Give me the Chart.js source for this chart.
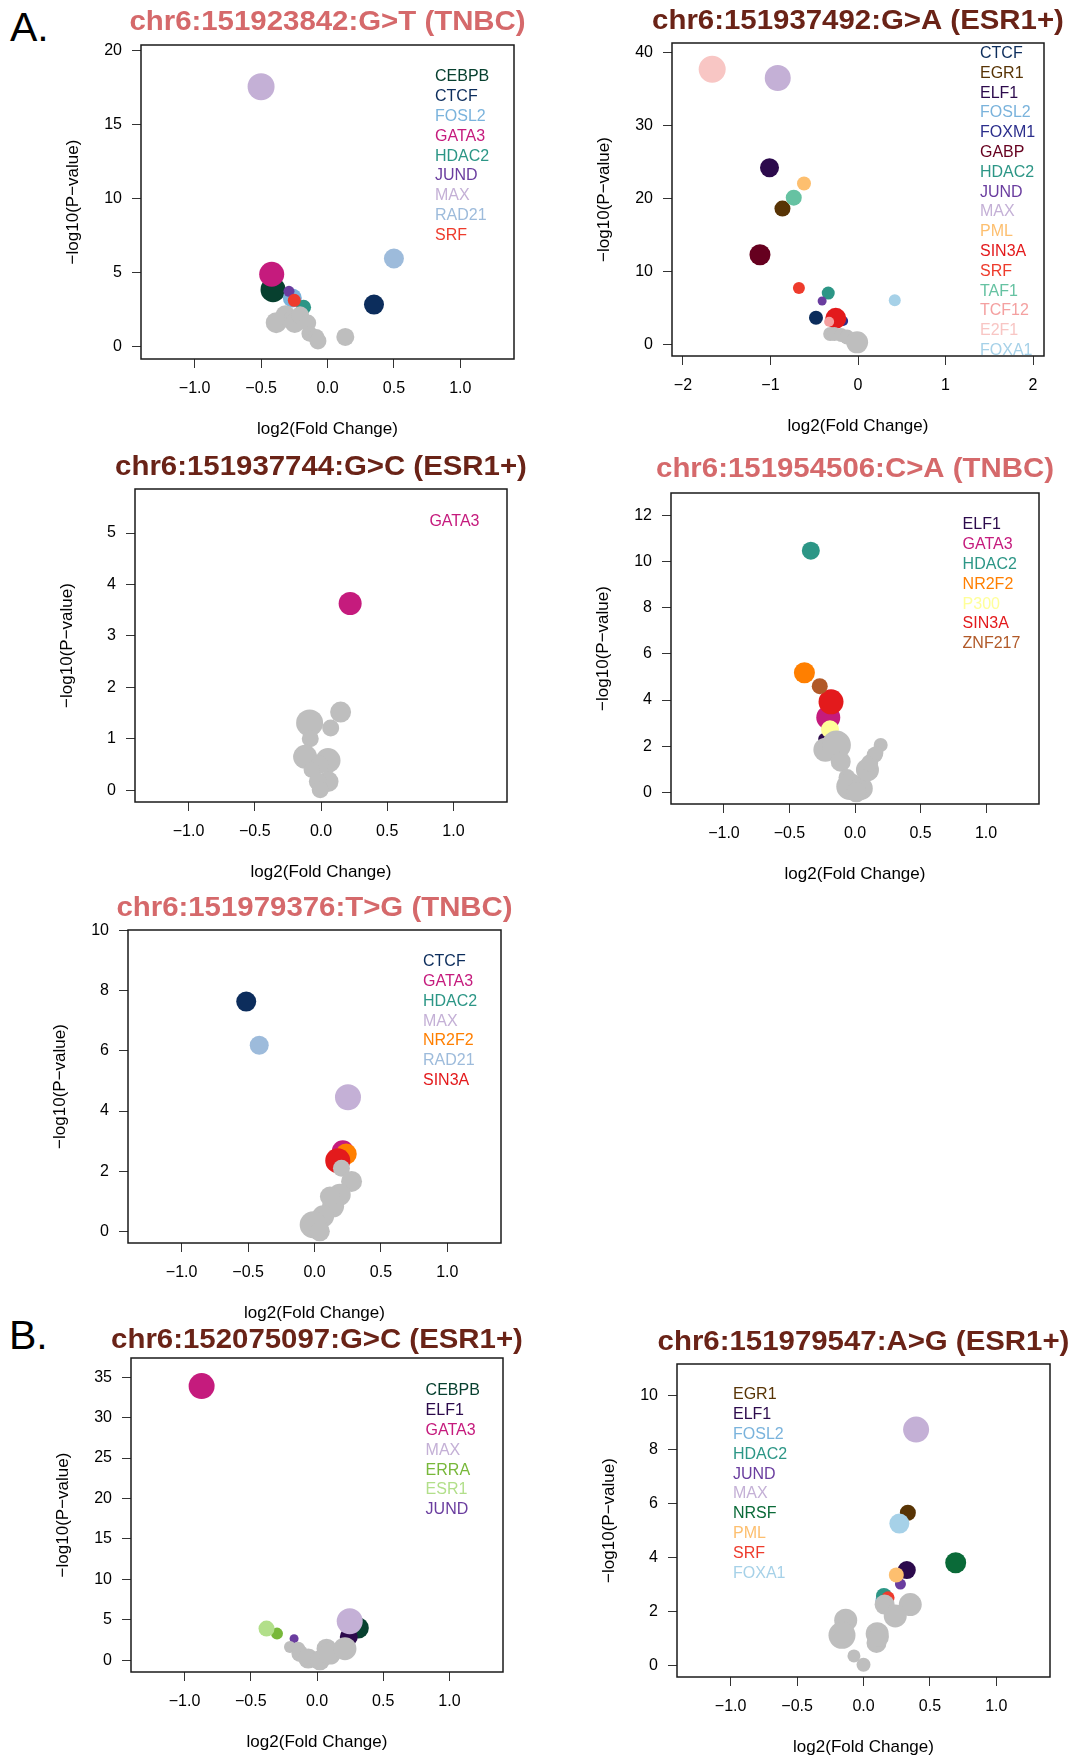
<!DOCTYPE html>
<html>
<head>
<meta charset="utf-8">
<script src="https://cdn.jsdelivr.net/npm/chart.js@4.4.1/dist/chart.umd.min.js"></script>
<style>
  body { margin: 0; background: #fff; }
  #page { position: relative; width: 1072px; height: 1756px; font-family: "Liberation Sans", Arial, sans-serif; }
  #page canvas { position: absolute; }
  .tag { position: absolute; font-size: 41px; line-height: 41px; color: #000; }
</style>
</head>
<body>
<div id="page">
  <div class="tag" style="left:10px;top:7px">A.</div>
  <div class="tag" style="left:9px;top:1315px">B.</div>
</div>
<script>
// --- Data ---
// each panel: TFs in legend / drawing order, their log2FC (x), -log10 p (y), bubble radius,
// then the grey (non-significant) points

const p1Title = "chr6:151923842:G>T (TNBC)";
const p1Legend = ["CEBPB", "CTCF", "FOSL2", "GATA3", "HDAC2", "JUND", "MAX", "RAD21", "SRF"];
const p1Tf = ["CEBPB", "CTCF", "FOSL2", "GATA3", "HDAC2", "JUND", "MAX", "RAD21", "SRF"];
const p1X = [-0.41, 0.35, -0.265, -0.42, -0.18, -0.29, -0.50, 0.50, -0.25];
const p1Y = [3.87, 2.86, 3.31, 4.91, 2.68, 3.76, 17.57, 5.97, 3.15];
const p1R = [12.5, 10, 9.5, 12.5, 7.5, 5.5, 13.5, 10, 6.5];
const p1GreyX = [-0.386, -0.317, -0.265, -0.247, -0.206, -0.149, -0.136, -0.085, -0.072, 0.134];
const p1GreyY = [1.64, 2.14, 1.91, 1.62, 2.14, 1.62, 0.90, 0.68, 0.41, 0.68];
const p1GreyR = [10.5, 10, 8.5, 10, 9, 8.5, 8, 8, 8.5, 9];

const p2Title = "chr6:151937492:G>A (ESR1+)";
const p2Legend = ["CTCF", "EGR1", "ELF1", "FOSL2", "FOXM1", "GABP", "HDAC2", "JUND", "MAX", "PML",
                  "SIN3A", "SRF", "TAF1", "TCF12", "E2F1", "FOXA1"];
const p2Tf = ["CTCF", "EGR1", "ELF1", "FOXM1", "GABP", "HDAC2", "JUND", "MAX", "PML", "SIN3A",
              "SRF", "TAF1", "TCF12", "E2F1", "FOXA1"];
const p2X = [-0.48, -0.863, -1.011, -0.17, -1.12, -0.34, -0.41, -0.917, -0.617, -0.254,
             -0.675, -0.734, -0.33, -1.666, 0.42];
const p2Y = [3.65, 18.6, 24.2, 3.2, 12.28, 7.03, 5.94, 36.5, 22.05, 3.56,
             7.72, 20.1, 3.1, 37.7, 6.03];
const p2R = [7, 8, 9.5, 5, 10.5, 6.5, 4.5, 13, 7, 10.5, 6, 8, 5, 13.5, 6];
const p2GreyX = [-0.318, -0.27, -0.192, -0.125, -0.01];
const p2GreyY = [1.42, 1.4, 1.28, 1.0, 0.27];
const p2GreyR = [7, 7, 7, 7.5, 11];

const p3Title = "chr6:151937744:G>C (ESR1+)";
const p3Legend = ["GATA3"];
const p3Tf = ["GATA3"];
const p3X = [0.22];
const p3Y = [3.63];
const p3R = [11.5];
const p3GreyX = [-0.086, 0.148, 0.073, -0.081, -0.12, 0.053, -0.012, -0.071, 0.053, -0.024, -0.006];
const p3GreyY = [1.31, 1.52, 1.21, 1.0, 0.65, 0.58, 0.5, 0.4, 0.17, 0.17, 0.01];
const p3GreyR = [13.5, 10.5, 8.5, 8.5, 12, 12.5, 9, 8, 10.5, 9, 8.5];

const p4Title = "chr6:151954506:C>A (TNBC)";
const p4Legend = ["ELF1", "GATA3", "HDAC2", "NR2F2", "P300", "SIN3A", "ZNF217"];
const p4Tf = ["ELF1", "GATA3", "HDAC2", "NR2F2", "P300", "SIN3A", "ZNF217"];
const p4X = [-0.235, -0.204, -0.337, -0.386, -0.191, -0.183, -0.269];
const p4Y = [2.31, 3.24, 10.47, 5.18, 2.73, 3.92, 4.6];
const p4R = [6, 12, 9, 10.5, 9, 12.5, 8];
const p4GreyX = [-0.226, -0.142, -0.109, -0.061, -0.04, 0.048, 0.01, 0.095, 0.15, 0.196, 0.112, 0.163];
const p4GreyY = [1.84, 2.05, 1.33, 0.64, 0.25, 0.17, 0.0, 0.97, 1.62, 2.05, 1.27, 1.7];
const p4GreyR = [12, 14.5, 10, 8.5, 13.5, 11.5, 10, 11.5, 8, 7, 8.5, 7];

const p5Title = "chr6:151979376:T>G (TNBC)";
const p5Legend = ["CTCF", "GATA3", "HDAC2", "MAX", "NR2F2", "RAD21", "SIN3A"];
const p5Tf = ["CTCF", "GATA3", "MAX", "NR2F2", "RAD21", "SIN3A"];
const p5X = [-0.514, 0.213, 0.252, 0.239, -0.416, 0.175];
const p5Y = [7.64, 2.66, 4.46, 2.57, 6.19, 2.35];
const p5R = [10, 11, 13, 10.5, 9.5, 12.5];
const p5GreyX = [0.203, 0.279, 0.19, 0.14, 0.065, -0.01, 0.04, 0.116];
const p5GreyY = [2.1, 1.66, 1.22, 0.83, 0.5, 0.22, 0.0, 1.16];
const p5GreyR = [8.5, 10.5, 11, 11, 11, 13.5, 10, 10];

const p6Title = "chr6:152075097:G>C (ESR1+)";
const p6Legend = ["CEBPB", "ELF1", "GATA3", "MAX", "ERRA", "ESR1", "JUND"];
const p6Tf = ["CEBPB", "ELF1", "GATA3", "MAX", "ERRA", "ESR1", "JUND"];
const p6X = [0.312, 0.24, -0.871, 0.247, -0.302, -0.381, -0.173];
const p6Y = [4.0, 2.89, 33.9, 4.83, 3.3, 3.92, 2.68];
const p6R = [10.5, 9, 13, 13, 6, 8, 4.5];
const p6GreyX = [-0.204, -0.142, -0.129, -0.066, 0.022, 0.072, 0.098, 0.211];
const p6GreyY = [1.65, 1.44, 0.83, 0.21, 0.0, 1.44, 0.83, 1.44];
const p6GreyR = [6, 7, 8.5, 10, 10, 10, 11, 11.5];

const p7Title = "chr6:151979547:A>G (ESR1+)";
const p7Legend = ["EGR1", "ELF1", "FOSL2", "HDAC2", "JUND", "MAX", "NRSF", "PML", "SRF", "FOXA1"];
const p7Tf = ["EGR1", "ELF1", "FOSL2", "HDAC2", "JUND", "MAX", "NRSF", "PML", "SRF", "FOXA1"];
const p7X = [0.334, 0.326, 0.15, 0.154, 0.278, 0.396, 0.694, 0.247, 0.185, 0.27];
const p7Y = [5.65, 3.53, 2.4, 2.57, 3.01, 8.73, 3.8, 3.35, 2.5, 5.25];
const p7R = [8, 9, 8, 8, 5.5, 13, 10.5, 7.5, 6.5, 10];
const p7GreyX = [0.159, 0.352, 0.239, -0.134, -0.162, 0.103, 0.098, -0.072, 0.0, 0.116];
const p7GreyY = [2.25, 2.25, 1.83, 1.67, 1.11, 1.17, 0.83, 0.35, 0.02, 1.05];
const p7GreyR = [10, 11.5, 11.5, 11.5, 13.5, 11.5, 10, 6.5, 7, 10];

const xTicksFc = [-1, -0.5, 0, 0.5, 1];
const xTicksWide = [-2, -1, 0, 1, 2];

// --- Colours ---
const tfColour = {
  CEBPB: "#07402f", CTCF: "#0c2d5c", FOSL2: "#7ab3dc", GATA3: "#c51b7d", HDAC2: "#2c9686",
  JUND: "#6a3d9f", MAX: "#c4b0d6", RAD21: "#9dbbdb", SRF: "#ee3b2c", EGR1: "#583405",
  ELF1: "#2c0a4c", FOXM1: "#2b2e8c", GABP: "#66001f", PML: "#fdbf6f", SIN3A: "#e31a1c",
  TAF1: "#66c2a2", TCF12: "#f4a0a0", E2F1: "#f8c6c4", FOXA1: "#a6d1e8", NR2F2: "#ff7f00",
  P300: "#ffff99", ZNF217: "#b15928", ERRA: "#78b83a", ESR1: "#b2df8a", NRSF: "#0a6a38"
};
const GREY = "#bebebe";
const TNBC = "#d5696b";
const ESR = "#6a2317";
const FONT = '"Liberation Sans", Arial, sans-serif';

// panel layout: plot box [left, top, right, bottom] in page pixels
const panels = [
  { title: p1Title, tc: TNBC, box: [141, 45, 514, 359], xr: [-1.404, 1.404], yr: [-0.81, 20.38],
    xt: xTicksFc, yt: [0, 5, 10, 15, 20], dec: 1, legend: p1Legend,
    tf: p1Tf, x: p1X, y: p1Y, r: p1R, gx: p1GreyX, gy: p1GreyY, gr: p1GreyR,
    leg: { fromRight: 79, top: 32 }, gap: 23 },
  { title: p2Title, tc: ESR, box: [672, 43, 1044, 356], xr: [-2.125, 2.125], yr: [-1.6, 41.3],
    xt: xTicksWide, yt: [0, 10, 20, 30, 40], dec: 0, legend: p2Legend,
    tf: p2Tf, x: p2X, y: p2Y, r: p2R, gx: p2GreyX, gy: p2GreyY, gr: p2GreyR,
    leg: { fromRight: 64, top: 10.5 }, gap: 22 },
  { title: p3Title, tc: ESR, box: [135, 489, 507, 802], xr: [-1.404, 1.404], yr: [-0.227, 5.855],
    xt: xTicksFc, yt: [0, 1, 2, 3, 4, 5], dec: 1, legend: p3Legend,
    tf: p3Tf, x: p3X, y: p3Y, r: p3R, gx: p3GreyX, gy: p3GreyY, gr: p3GreyR,
    leg: { fromRight: 77.6, top: 32.7 }, gap: 22 },
  { title: p4Title, tc: TNBC, box: [671, 493, 1039, 804], xr: [-1.404, 1.404], yr: [-0.506, 12.97],
    xt: xTicksFc, yt: [0, 2, 4, 6, 8, 10, 12], dec: 1, legend: p4Legend,
    tf: p4Tf, x: p4X, y: p4Y, r: p4R, gx: p4GreyX, gy: p4GreyY, gr: p4GreyR,
    leg: { fromRight: 76.4, top: 32 }, gap: 24 },
  { title: p5Title, tc: TNBC, box: [128, 930, 501, 1243], xr: [-1.404, 1.404], yr: [-0.388, 10.02],
    xt: xTicksFc, yt: [0, 2, 4, 6, 8, 10], dec: 1, legend: p5Legend,
    tf: p5Tf, x: p5X, y: p5Y, r: p5R, gx: p5GreyX, gy: p5GreyY, gr: p5GreyR,
    leg: { fromRight: 78, top: 31.7 }, gap: 22 },
  { title: p6Title, tc: ESR, box: [131, 1358, 503, 1672], xr: [-1.404, 1.404], yr: [-1.444, 37.37],
    xt: xTicksFc, yt: [0, 5, 10, 15, 20, 25, 30, 35], dec: 1, legend: p6Legend,
    tf: p6Tf, x: p6X, y: p6Y, r: p6R, gx: p6GreyX, gy: p6GreyY, gr: p6GreyR,
    leg: { fromRight: 77.4, top: 33 }, gap: 18 },
  { title: p7Title, tc: ESR, box: [677, 1364, 1050, 1677], xr: [-1.404, 1.404], yr: [-0.432, 11.16],
    xt: xTicksFc, yt: [0, 2, 4, 6, 8, 10], dec: 1, legend: p7Legend,
    tf: p7Tf, x: p7X, y: p7Y, r: p7R, gx: p7GreyX, gy: p7GreyY, gr: p7GreyR,
    leg: { fromLeft: 56, top: 31 }, gap: 22 }
];

// box, text legend and title, R style
const decor = {
  id: "decor",
  afterDatasetsDraw(chart, args, o) {
    const { ctx, chartArea: a } = chart;
    ctx.save();
    ctx.strokeStyle = "#1a1a1a";
    ctx.lineWidth = 1.5;
    ctx.strokeRect(a.left, a.top, a.right - a.left, a.bottom - a.top);

    ctx.font = "16px " + FONT;
    ctx.textBaseline = "middle";
    ctx.textAlign = "left";
    const lx = o.leg.fromLeft != null ? a.left + o.leg.fromLeft : a.right - o.leg.fromRight;
    o.legend.forEach((name, i) => {
      ctx.fillStyle = tfColour[name];
      ctx.fillText(name, lx, a.top + o.leg.top + i * 19.8);
    });

    ctx.font = "bold 28px " + FONT;
    ctx.fillStyle = o.tc;
    ctx.textAlign = "center";
    ctx.translate((a.left + a.right) / 2, a.top - o.gap);
    ctx.scale(1.05, 1);
    ctx.fillText(o.title, 0, 0);
    ctx.restore();
  }
};

const minus = s => String(s).replace("-", "\u2212");
const page = document.getElementById("page");

panels.forEach(p => {
  const [l, t, r, b] = p.box;
  const canvas = document.createElement("canvas");
  const w = r - l + 140, h = b - t + 140;
  canvas.width = w;
  canvas.height = h;
  canvas.style.width = w + "px";
  canvas.style.height = h + "px";
  canvas.style.left = (l - 110) + "px";
  canvas.style.top = (t - 45) + "px";
  page.appendChild(canvas);

  const datasets = p.tf.map((name, i) => ({
    label: name,
    data: [{ x: p.x[i], y: p.y[i], r: p.r[i] }],
    backgroundColor: tfColour[name],
    borderWidth: 0,
    order: 100 - i
  }));
  datasets.push({
    label: "other",
    data: p.gx.map((v, i) => ({ x: v, y: p.gy[i], r: p.gr[i] })),
    backgroundColor: GREY,
    borderWidth: 0,
    order: 0
  });

  const grid = { drawOnChartArea: false, drawTicks: true, tickLength: 9, color: "#333", lineWidth: 1 };

  new Chart(canvas, {
    type: "bubble",
    data: { datasets },
    options: {
      responsive: false,
      animation: false,
      devicePixelRatio: 1,
      events: [],
      layout: { padding: { left: 10, top: 45, right: 30, bottom: 5 } },
      plugins: {
        legend: { display: false },
        tooltip: { enabled: false },
        decor: p
      },
      scales: {
        x: {
          type: "linear",
          min: p.xr[0],
          max: p.xr[1],
          afterBuildTicks: s => { s.ticks = p.xt.map(v => ({ value: v })); },
          afterFit: s => { s.height = 90; },
          grid,
          border: { display: false },
          ticks: {
            color: "#000", font: { size: 16, family: FONT }, padding: 11,
            maxRotation: 0, autoSkip: false,
            callback: v => minus(v.toFixed(p.dec))
          },
          title: {
            display: true, text: "log2(Fold Change)", color: "#000",
            font: { size: 17, family: FONT }, padding: { top: 0, bottom: 9.8 }
          }
        },
        y: {
          type: "linear",
          min: p.yr[0],
          max: p.yr[1],
          afterBuildTicks: s => { s.ticks = p.yt.map(v => ({ value: v })); },
          afterFit: s => { s.width = 100; },
          grid,
          border: { display: false },
          ticks: {
            color: "#000", font: { size: 16, family: FONT }, padding: 10, autoSkip: false,
            callback: v => String(v)
          },
          title: {
            display: true, text: "\u2212log10(P\u2212value)", color: "#000",
            font: { size: 17, family: FONT }, padding: { top: 21.8, bottom: 0 }
          }
        }
      }
    },
    plugins: [decor]
  });
});
</script>
</body>
</html>
